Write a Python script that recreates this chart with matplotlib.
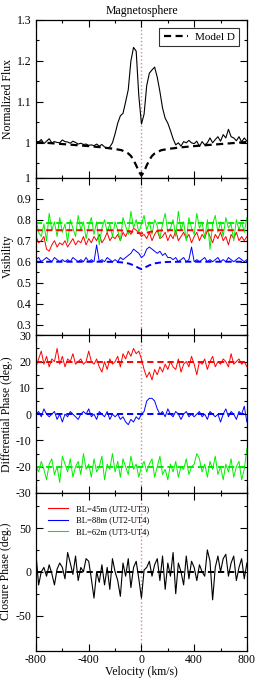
import numpy as np
import matplotlib
matplotlib.use("Agg")
import matplotlib.pyplot as plt
from matplotlib.ticker import MultipleLocator, FuncFormatter
from matplotlib.lines import Line2D

plt.rcParams['font.family'] = ['Liberation Serif', 'DejaVu Serif']
plt.rcParams['axes.unicode_minus'] = False

# velocity grid of the data (km/s), 20 km/s steps
velocity = np.arange(-800, 801, 20)

# normalized flux (observed)
flux = [1.003, 1.002, 1.008, 0.998, 1.004, 1.010, 1.000, 1.003, 1.001, 1.000,
        1.007, 1.003, 1.002, 0.999, 1.004, 1.001, 0.997, 0.999, 0.996, 0.997,
        0.994, 0.995, 0.993, 0.997, 0.992, 0.996, 0.990, 0.986, 0.990, 1.000,
        1.022, 1.048, 1.066, 1.072, 1.100, 1.130, 1.200, 1.233, 1.224, 1.115,
        1.046,
        1.070, 1.140, 1.170, 1.178, 1.185, 1.160, 1.125, 1.085, 1.060, 1.048,
        1.030, 1.010, 0.995, 1.000, 0.992, 1.003, 1.000, 1.006, 1.000, 0.998,
        1.004, 0.991, 1.003, 0.995, 1.000, 1.012, 1.000, 1.008, 1.015, 1.004,
        1.020, 1.012, 1.033, 1.015, 1.012, 1.005, 1.015, 1.002, 1.012, 1.004]

# model D curves on a coarser grid
model_velocity = [-800, -600, -400, -300, -200, -150, -100, -80, -60, -40, -20, 0,
                  20, 40, 60, 80, 100, 150, 200, 300, 400, 600, 800]
flux_model = [1.002, 0.997, 0.992, 0.989, 0.985, 0.982, 0.974, 0.968, 0.958, 0.945, 0.930, 0.920,
              0.930, 0.945, 0.958, 0.968, 0.974, 0.982, 0.985, 0.989, 0.992, 0.997, 1.002]
vis_red_model = [0.750, 0.750, 0.750, 0.750, 0.750, 0.749, 0.746, 0.744, 0.741, 0.738, 0.736, 0.735,
                 0.736, 0.738, 0.741, 0.744, 0.746, 0.749, 0.750, 0.750, 0.750, 0.750, 0.750]
vis_blue_model = [0.600, 0.600, 0.600, 0.600, 0.599, 0.597, 0.592, 0.588, 0.583, 0.577, 0.570, 0.565,
                  0.570, 0.577, 0.583, 0.588, 0.592, 0.597, 0.599, 0.600, 0.600, 0.600, 0.600]
vis_green_model = [0.785] * 23
dp_red_model = [20] * 23
dp_blue_model = [0] * 23
dp_green_model = [-20] * 23
cp_model = [0] * 23

vis_red = [0.72, 0.69, 0.70, 0.72, 0.66, 0.65, 0.68, 0.70, 0.67, 0.69,
           0.68, 0.70, 0.67, 0.69, 0.71, 0.68, 0.70, 0.69, 0.72, 0.68,
           0.71, 0.69, 0.72, 0.70, 0.73, 0.69, 0.71, 0.74, 0.70, 0.72,
           0.71, 0.73, 0.70, 0.74, 0.72, 0.75, 0.73, 0.76, 0.75, 0.74,
           0.72,
           0.73, 0.71, 0.74, 0.70, 0.73, 0.75, 0.71, 0.72, 0.74, 0.70,
           0.73, 0.71, 0.75, 0.70, 0.72, 0.74, 0.71, 0.73, 0.69, 0.72,
           0.74, 0.70, 0.73, 0.71, 0.75, 0.72, 0.69, 0.73, 0.71, 0.74,
           0.70, 0.72, 0.68, 0.73, 0.71, 0.74, 0.70, 0.72, 0.70, 0.72]
vis_green = [0.80, 0.74, 0.72, 0.78, 0.70, 0.83, 0.75, 0.79, 0.72, 0.81,
             0.74, 0.78, 0.69, 0.80, 0.76, 0.72, 0.82, 0.75, 0.79, 0.71,
             0.77, 0.81, 0.73, 0.79, 0.68, 0.76, 0.80, 0.74, 0.78, 0.72,
             0.79, 0.75, 0.70, 0.81, 0.77, 0.73, 0.84, 0.76, 0.80, 0.74,
             0.78,
             0.82, 0.75, 0.79, 0.73, 0.80, 0.77, 0.71, 0.78, 0.83, 0.74,
             0.76, 0.80, 0.72, 0.84, 0.75, 0.79, 0.70, 0.81, 0.76, 0.73,
             0.83, 0.76, 0.79, 0.71, 0.80, 0.66, 0.78, 0.82, 0.74, 0.79,
             0.72, 0.81, 0.76, 0.78, 0.70, 0.80, 0.75, 0.79, 0.74, 0.81]
vis_blue = [0.61, 0.62, 0.60, 0.61, 0.62, 0.61, 0.60, 0.62, 0.61, 0.60,
            0.61, 0.60, 0.61, 0.60, 0.62, 0.61, 0.60, 0.61, 0.60, 0.62,
            0.60, 0.61, 0.60, 0.68, 0.60, 0.61, 0.60, 0.62, 0.61, 0.60,
            0.61, 0.60, 0.62, 0.61, 0.62, 0.63, 0.64, 0.66, 0.65, 0.64,
            0.62,
            0.63, 0.66, 0.67, 0.66, 0.65, 0.64, 0.65, 0.63, 0.64, 0.62,
            0.62, 0.61, 0.62, 0.60, 0.61, 0.62, 0.60, 0.61, 0.67, 0.60,
            0.61, 0.60, 0.61, 0.62, 0.60, 0.61, 0.60, 0.61, 0.62, 0.60,
            0.61, 0.60, 0.62, 0.61, 0.60, 0.61, 0.62, 0.61, 0.60, 0.61]

dp_red = [18, 21, 24, 19, 22, 18, 21, 20, 25, 19,
          22, 18, 21, 20, 23, 19, 20, 21, 19, 20,
          24, 20, 19, 21, 18, 16, 20, 17, 21, 19,
          20, 22, 18, 23, 21, 24, 22, 25, 23, 24,
          21,
          17, 14, 16, 13, 17, 15, 18, 16, 19, 17,
          20, 18, 17, 21, 16, 19, 20, 18, 22, 19,
          15, 20, 19, 21, 17, 20, 22, 18, 20, 19,
          21, 20, 18, 23, 19, 20, 21, 19, 20, 18]
dp_blue = [0, 1, -1, 2, 0, -1, 0, 1, -2, 0,
           -3, 0, -1, 1, 0, -1, -2, 0, 1, 0,
           2, -1, 0, -2, 1, 0, -1, 1, -2, 0,
           -1, 0, -2, -1, -3, -4, -2, -3, -1, -2,
           0,
           1, 5, 6, 6, 5, 2, 0, 1, -1, 2,
           0, -1, 1, 0, -2, 0, 1, -1, 0, -1,
           0, 1, -1, 0, -2, 1, 0, -1, 0, -3,
           0, 2, -1, 1, 0, -2, 1, 0, 3, -3]
dp_green = [-20, -22, -18, -21, -25, -19, -17, -23, -20, -26,
            -16, -19, -22, -17, -24, -20, -18, -23, -15, -21,
            -19, -24, -17, -22, -20, -16, -25, -19, -21, -15,
            -22, -18, -24, -17, -20, -23, -16, -21, -19, -24,
            -20,
            -18, -22, -19, -17, -24, -20, -16, -23, -21, -25,
            -19, -22, -18, -24, -20, -21, -17, -23, -20, -19,
            -15, -17, -22, -19, -24, -18, -21, -16, -23, -20,
            -25, -19, -22, -17, -24, -20, -18, -25, -21, -13]

cp = [20, -15, 0, 5, -5, 8, -2, -15, 3, 10,
      5, -8, 22, 10, -3, 18, -10, 5, 0, 15,
      12, -8, -30, 0, -12, 8, -15, 5, -20, 15,
      0, -10, -28, 10, -5, 15, -18, 5, 12, -8,
      -30,
      2, 5, 12, -5, 8, 15, -10, 18, -20, 10,
      -5, 22, -25, 10, 0, -15, 18, -8, 12, 5,
      -10, 8, 0, -5, 25, 12, -32, 5, 18, 0,
      15, 20, -5, 10, 18, -10, 5, 15, -8, 10]

baselines = ['BL=45m (UT2-UT3)', 'BL=88m (UT2-UT4)', 'BL=62m (UT3-UT4)']
RED, BLUE, GREEN = '#ff0000', '#0000ff', '#00ee00'
DASH = (0, (3.2, 2.0))

fig, axes = plt.subplots(4, 1, figsize=(2.58, 6.82), dpi=100, sharex=True)
fig.subplots_adjust(left=0.1395, right=0.957, top=0.9707, bottom=0.046, hspace=0)

fmt = FuncFormatter(lambda v, p: '%g' % round(v, 6))

ax = axes[0]
ax.plot(velocity, flux, color='black', lw=0.8)
ax.plot(model_velocity, flux_model, color='black', lw=1.6, ls=DASH, label='Model D')
ax.set_ylim(0.915, 1.3)
ax.yaxis.set_major_locator(MultipleLocator(0.1))
ax.yaxis.set_minor_locator(MultipleLocator(0.05))
ax.set_ylabel('Normalized Flux', fontsize=8.5)
ax.set_title('Magnetosphere', fontsize=8.5, pad=4)
leg = ax.legend(loc='upper right', fontsize=8, handlelength=2.2, fancybox=False,
                borderpad=0.4, handletextpad=0.6, borderaxespad=0.7)
leg.get_frame().set_edgecolor('black')
leg.get_frame().set_linewidth(0.8)

ax = axes[1]
ax.plot(velocity, vis_red, color=RED, lw=0.7)
ax.plot(velocity, vis_green, color=GREEN, lw=0.7)
ax.plot(velocity, vis_blue, color=BLUE, lw=0.7)
ax.plot(model_velocity, vis_red_model, color=RED, lw=1.4, ls=DASH)
ax.plot(model_velocity, vis_green_model, color=GREEN, lw=1.4, ls=DASH)
ax.plot(model_velocity, vis_blue_model, color=BLUE, lw=1.4, ls=DASH)
ax.set_ylim(0.25, 1.0)
ax.yaxis.set_major_locator(MultipleLocator(0.1))
ax.yaxis.set_minor_locator(MultipleLocator(0.05))
ax.set_ylabel('Visibility', fontsize=8.5)

ax = axes[2]
ax.plot(velocity, dp_red, color=RED, lw=0.7)
ax.plot(velocity, dp_blue, color=BLUE, lw=0.7)
ax.plot(velocity, dp_green, color=GREEN, lw=0.7)
ax.plot(model_velocity, dp_red_model, color=RED, lw=1.4, ls=DASH)
ax.plot(model_velocity, dp_blue_model, color=BLUE, lw=1.4, ls=DASH)
ax.plot(model_velocity, dp_green_model, color=GREEN, lw=1.4, ls=DASH)
ax.set_ylim(-30, 30)
ax.yaxis.set_major_locator(MultipleLocator(10))
ax.yaxis.set_minor_locator(MultipleLocator(5))
ax.set_ylabel('Differential Phase (deg.)', fontsize=8.5)

ax = axes[3]
ax.plot(velocity, cp, color='black', lw=0.8)
ax.plot(model_velocity, cp_model, color='black', lw=1.4, ls=DASH)
ax.set_ylim(-90, 90)
ax.yaxis.set_major_locator(MultipleLocator(50))
ax.yaxis.set_minor_locator(MultipleLocator(25))
ax.set_ylabel('Closure Phase (deg.)', fontsize=8.5)
ax.set_xlabel('Velocity (km/s)', fontsize=8.5, labelpad=0)
handles = [Line2D([], [], color=c, lw=0.8) for c in (RED, BLUE, GREEN)]
ax.legend(handles, baselines, loc='upper left', fontsize=6.2, frameon=False,
          handlelength=2.3, handletextpad=1.0, labelspacing=0.4,
          borderaxespad=1.0)

for ax in axes:
    ax.axvline(0, color='#c89090', ls=':', lw=1.0, zorder=0)
    ax.set_xlim(-800, 800)
    ax.xaxis.set_major_locator(MultipleLocator(400))
    ax.xaxis.set_minor_locator(MultipleLocator(200))
    ax.yaxis.set_major_formatter(fmt)
    ax.tick_params(which='both', direction='in', top=True, right=True, labelsize=8.5)
    ax.tick_params(which='major', length=5, width=0.8)
    ax.tick_params(which='minor', length=2.5, width=0.8)
    ax.tick_params(axis='x', pad=2.5)
    ax.yaxis.labelpad = 2
    for s in ax.spines.values():
        s.set_linewidth(0.9)
axes[3].xaxis.set_major_formatter(fmt)

fig.savefig('out.png', dpi=100)
